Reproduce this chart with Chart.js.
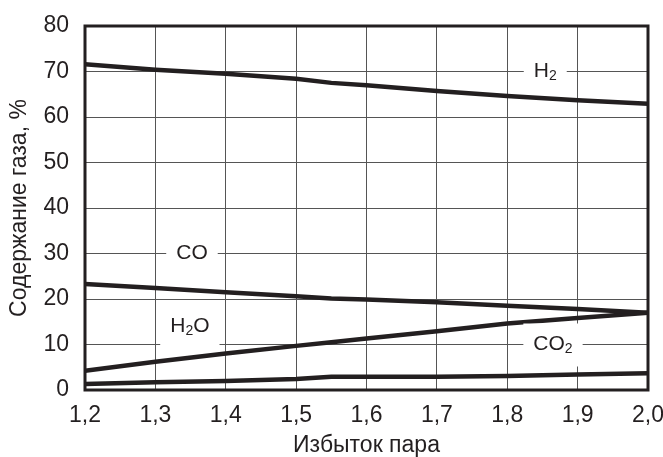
<!DOCTYPE html>
<html>
<head>
<meta charset="utf-8">
<script src="https://cdn.jsdelivr.net/npm/chart.js@4.4.1/dist/chart.umd.min.js"></script>
<style>
html,body{margin:0;padding:0;background:#fff;}
#wrap{width:663px;height:457px;}
</style>
</head>
<body>
<div id="wrap"><canvas id="c" width="663" height="457"></canvas></div>
<script>
const xValues = [1.2, 1.3, 1.4, 1.5, 1.55, 1.6, 1.7, 1.8, 1.9, 2.0];
const h2Values  = [71.6, 70.4, 69.5, 68.4, 67.5, 67.0, 65.7, 64.6, 63.7, 62.9];
const coValues  = [23.3, 22.4, 21.5, 20.6, 20.1, 19.9, 19.3, 18.5, 17.8, 17.0];
const h2oValues = [4.2, 6.2, 8.0, 9.7, 10.5, 11.3, 12.9, 14.6, 15.8, 17.0];
const co2Values = [1.3, 1.7, 2.0, 2.4, 2.9, 2.9, 2.9, 3.1, 3.4, 3.7];
const xTickLabels = ['1,2','1,3','1,4','1,5','1,6','1,7','1,8','1,9','2,0'];
const yTickLabels = ['0','10','20','30','40','50','60','70','80'];
const seriesNames = ['H2', 'CO', 'H2O', 'CO2'];
// label anchors in data units: [x, y], text parts [main, sub, tail]
const seriesLabels = [
  {x: 1.854, y: 70, parts: ['H', '2', '']},
  {x: 1.352, y: 30, parts: ['CO', '', '']},
  {x: 1.349, y: 14.1, parts: ['H', '2', 'O']},
  {x: 1.865, y: 10, parts: ['CO', '2', '']}
];

const INK = '#231f20';
const FONT = 'Liberation Sans, Arial, sans-serif';

function toXY(vals){ return xValues.map((x,i)=>({x:x, y:vals[i]})); }

const labelPlugin = {
  id: 'seriesLabels',
  afterDatasetsDraw(chart){
    const ctx = chart.ctx;
    const xs = chart.scales.x, ys = chart.scales.y;
    ctx.save();
    seriesLabels.forEach(l => {
      const px = xs.getPixelForValue(l.x), py = ys.getPixelForValue(l.y);
      ctx.font = '21px ' + FONT;
      const w1 = ctx.measureText(l.parts[0]).width;
      const w3 = ctx.measureText(l.parts[2]).width;
      ctx.font = '14px ' + FONT;
      const w2 = ctx.measureText(l.parts[1]).width;
      const total = w1 + w2 + w3;
      ctx.fillStyle = '#fff';
      ctx.fillRect(px - total/2 - 10, py - 21, total + 20, 43);
      let cx = px - total/2;
      ctx.fillStyle = INK;
      ctx.textBaseline = 'middle';
      ctx.textAlign = 'left';
      ctx.font = '21px ' + FONT;
      ctx.fillText(l.parts[0], cx, py);
      cx += w1;
      ctx.font = '14px ' + FONT;
      ctx.fillText(l.parts[1], cx, py + 5);
      cx += w2;
      ctx.font = '21px ' + FONT;
      ctx.fillText(l.parts[2], cx, py);
    });
    ctx.restore();
  },
  afterDraw(chart){
    const a = chart.chartArea, ctx = chart.ctx;
    ctx.save();
    ctx.strokeStyle = INK;
    ctx.lineWidth = 3;
    ctx.strokeRect(a.left, a.top, a.right - a.left, a.bottom - a.top);
    ctx.restore();
  }
};

const mk = (name, vals) => ({
  label: name, data: toXY(vals), borderColor: INK, backgroundColor: INK,
  borderWidth: 4.5, pointRadius: 0, tension: 0, fill: false
});

new Chart(document.getElementById('c'), {
  type: 'line',
  data: { datasets: [
    mk(seriesNames[0], h2Values), mk(seriesNames[1], coValues),
    mk(seriesNames[2], h2oValues), mk(seriesNames[3], co2Values)
  ]},
  options: {
    responsive: false, animation: false,
    layout: { padding: { top: 26, right: 15, left: 0, bottom: 0 } },
    plugins: { legend: { display: false }, tooltip: { enabled: false } },
    scales: {
      x: {
        type: 'linear', min: 1.2, max: 2.0,
        grid: { color: '#555', lineWidth: 1, drawTicks: false },
        border: { display: false },
        ticks: { stepSize: 0.1, padding: 12, color: INK, font: { size: 23, family: FONT },
          callback: (v) => { const i = Math.round((v - 1.2) * 10); return xTickLabels[i]; } },
        title: { display: true, text: 'Избыток пара', color: INK, font: { size: 23, family: FONT, lineHeight: 1 }, padding: { top: 0, bottom: 0 } },
        afterFit: (s) => { s.height = 67; s.paddingLeft = 0; s.paddingRight = 0; }
      },
      y: {
        min: 0, max: 80,
        grid: { color: '#555', lineWidth: 1, drawTicks: false },
        border: { display: false },
        ticks: { stepSize: 10, padding: 16, color: INK, font: { size: 23, family: FONT },
          callback: (v) => yTickLabels[Math.round(v / 10)] },
        title: { display: true, text: 'Содержание газа, %', color: INK, font: { size: 23, family: FONT }, padding: { top: 6, bottom: 0 } },
        afterFit: (s) => { s.width = 85; s.paddingTop = 0; s.paddingBottom = 0; }
      }
    }
  },
  plugins: [labelPlugin]
});
</script>
</body>
</html>
